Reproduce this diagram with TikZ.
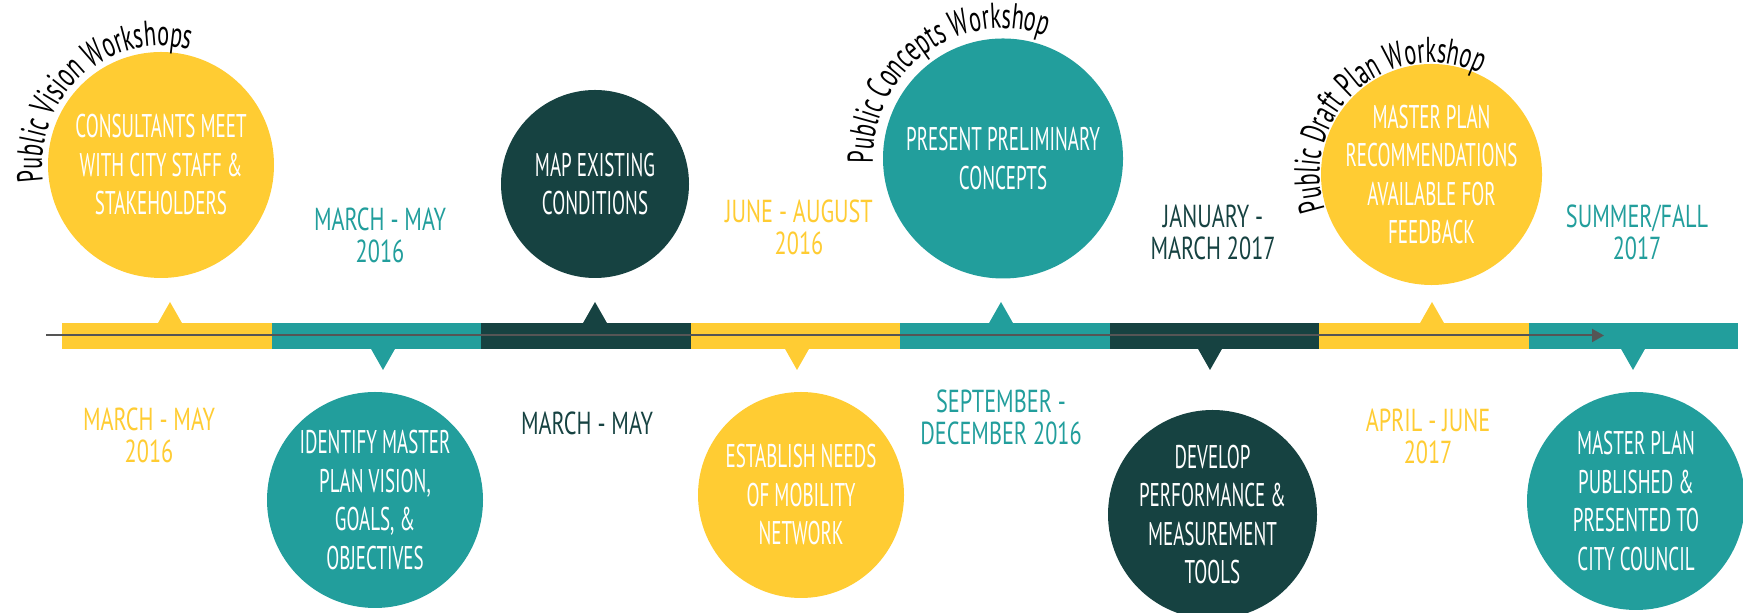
\documentclass[tikz,border=0pt]{standalone}
\usepackage{fontspec}
\setmainfont{PT Sans}
\newfontfamily\bubblefont{PT Sans}[FakeStretch=0.58]
\newfontfamily\datefont{PT Sans}[FakeStretch=0.7]
\newfontfamily\arcfont{PT Sans}[FakeStretch=0.62]
\usetikzlibrary{positioning, calc, arrows.meta, decorations.text}
\definecolor{gold}{HTML}{FFCC33}
\definecolor{sea}{HTML}{229E9C}
\definecolor{pine}{HTML}{164241}
\definecolor{rule}{HTML}{555555}
\tikzset{%
	bubble/.style={circle, inner sep=0mm, minimum size=#1pt, text=white, align=center,%
		font=\bubblefont\fontsize{16.4}{19.25}\selectfont},
	date/.style={align=center, inner sep=0mm, font=\datefont\fontsize{15.9}{16}\selectfont},
	seg/.style={rectangle, inner sep=0mm, outer sep=0mm, minimum width=104.75pt, minimum height=13pt},
	timeline/.style={draw=rule, line width=1pt, -{Triangle[length=6pt, width=6.5pt]}},
	arclabel/.style={decorate, decoration={text along path, text align=left,%
		text={|\arcfont\fontsize{18}{19}\selectfont|#1}}}
}
% little pointers on the bar
\newcommand{\pinup}[2]{\fill[#1] (#2,289) ++(-12.5,0) -- ++(12.5,22) -- ++(12.5,-22) -- cycle;}
\newcommand{\pindown}[2]{\fill[#1] (#2,265) ++(-12.5,0) -- ++(12.5,-22) -- ++(12.5,22) -- cycle;}

\begin{document}
\begin{tikzpicture}[x=0.5pt, y=0.5pt]
	\useasboundingbox (0,0) rectangle (1743,613);

	% the bar
	\node[seg, fill=gold]               (s1) at (166.75,277) {};
	\node[seg, fill=sea,  right=0pt of s1] (s2) {};
	\node[seg, fill=pine, right=0pt of s2] (s3) {};
	\node[seg, fill=gold, right=0pt of s3] (s4) {};
	\node[seg, fill=sea,  right=0pt of s4] (s5) {};
	\node[seg, fill=pine, right=0pt of s5] (s6) {};
	\node[seg, fill=gold, right=0pt of s6] (s7) {};
	\node[seg, fill=sea,  right=0pt of s7] (s8) {};

	\coordinate (tstart) at (46,277.5);
	\coordinate (tend) at (1604,277.5);
	\draw[timeline] (tstart) -- (tend);

	\pinup{gold}{170}   \pindown{sea}{383}
	\pinup{pine}{595}   \pindown{gold}{797}
	\pinup{sea}{1001}   \pindown{pine}{1210}
	\pinup{gold}{1432}  \pindown{sea}{1633}

	% steps above the bar
	\node[bubble=113,   fill=gold] (c1) at (161,448)    {CONSULTANTS MEET\\WITH CITY STAFF \&\\STAKEHOLDERS};
	\node[bubble=94,    fill=pine] (c2) at (595,429)    {MAP EXISTING\\CONDITIONS};
	\node[bubble=120,   fill=sea]  (c3) at (1003,454.5) {PRESENT PRELIMINARY\\CONCEPTS};
	\node[bubble=103.5, fill=gold] (c4) at (1431.5,438.5) {MASTER PLAN\\RECOMMENDATIONS\\AVAILABLE FOR\\FEEDBACK};

	% steps below the bar
	\node[bubble=108,   fill=sea]  (c5) at (375,113)    {IDENTIFY MASTER\\PLAN VISION,\\GOALS, \&\\OBJECTIVES};
	\node[bubble=103,   fill=gold] (c6) at (801,118)    {ESTABLISH NEEDS\\OF MOBILITY\\NETWORK};
	\node[bubble=104.5, fill=pine] (c7) at (1212.5,98.5) {DEVELOP\\PERFORMANCE \&\\MEASUREMENT\\TOOLS};
	\node[bubble=109,   fill=sea]  (c8) at (1636,112)   {MASTER PLAN\\PUBLISHED \&\\PRESENTED TO\\CITY COUNCIL};

	% dates
	\node[date, text=gold] (d1) at (149,177.5)  {MARCH - MAY\\2016};
	\node[date, text=sea]  (d2) at (380,378)    {MARCH - MAY\\2016};
	\node[date, text=pine] (d3) at (587,190)    {MARCH - MAY};
	\node[date, text=gold] (d4) at (799,385.5)  {JUNE - AUGUST\\2016};
	\node[date, text=sea]  (d5) at (1001,195.5) {SEPTEMBER -\\DECEMBER 2016};
	\node[date, text=pine] (d6) at (1213,380.5) {JANUARY -\\MARCH 2017};
	\node[date, text=gold] (d7) at (1428,177)   {APRIL - JUNE\\2017};
	\node[date, text=sea]  (d8) at (1637,380.5) {SUMMER/FALL\\2017};

	% workshop names round the bubbles
	\path[arclabel={Public Vision Workshops}] (c1.center) ++(188:119) arc[start angle=188, end angle=50, radius=119];
	\path[arclabel={Public Concepts Workshop}] (c3.center) ++(182:130) arc[start angle=182, end angle=35, radius=130];
	\path[arclabel={Public Draft Plan Workshop}] (c4.center) ++(198:112) arc[start angle=198, end angle=25, radius=112];
\end{tikzpicture}
\end{document}
